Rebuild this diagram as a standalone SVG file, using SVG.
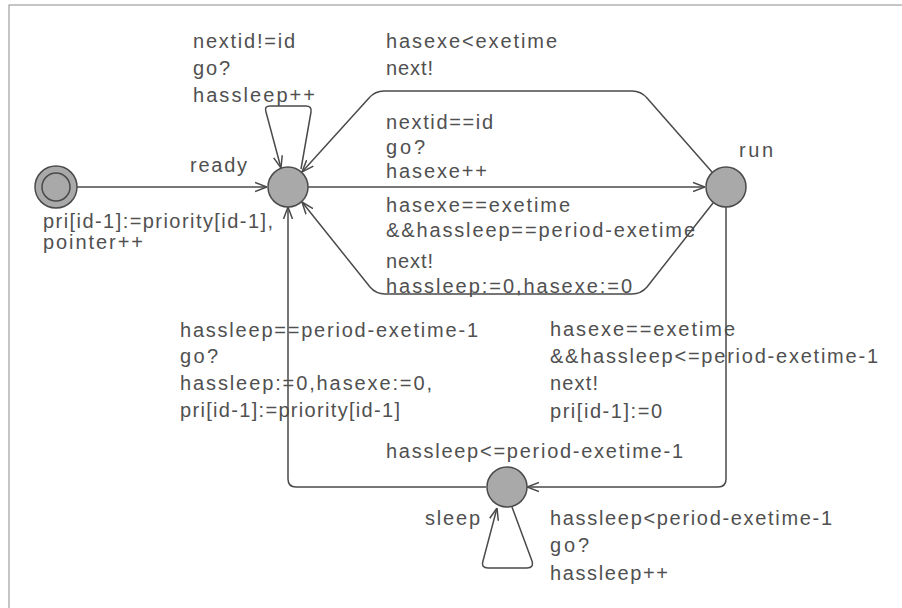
<svg xmlns="http://www.w3.org/2000/svg" width="902" height="608" viewBox="0 0 902 608">
  <style>
    .frame { fill: #ffffff; stroke: #a0a0a0; stroke-width: 1.2; }
    .loc { fill: #a9a9a9; stroke: #4a4a4a; stroke-width: 1.5; }
    .edge { fill: none; stroke: #4a4a4a; stroke-width: 1.5; marker-end: url(#arrow); }
    text { font-family: "Liberation Sans", Arial, sans-serif; font-size: 20px; fill: #505050; }
  </style>
  <defs>
    <marker id="arrow" viewBox="0 0 12 12" refX="12" refY="6" markerWidth="12" markerHeight="12" markerUnits="userSpaceOnUse" orient="auto">
      <path d="M0,1.5 L12,6 L0,10.5" fill="none" stroke="#4a4a4a" stroke-width="1.5"/>
    </marker>
  </defs>

  <!-- drawing area -->
  <rect class="frame" x="9" y="5" width="1000" height="1000"/>

  <!-- transitions -->
  <g id="connectors">
    <!-- initial -> ready -->
    <path class="edge" d="M77,187 L267,187"/>
    <!-- ready self loop -->
    <path class="edge" d="M301,169 L311,112 Q312,106 306,106 L270,106 Q264,106 266,112 L281,168"/>
    <!-- run -> ready (upper) -->
    <path class="edge" d="M712,172 L647,98 Q641,91 632,91 L384,91 Q375,91 369,98 L302,172"/>
    <!-- ready -> run -->
    <path class="edge" d="M308,187 L705,187"/>
    <!-- run -> ready (lower) -->
    <path class="edge" d="M713,203 L647,287 Q641,294 632,294 L385,294 Q376,294 370,287 L302,202"/>
    <!-- sleep -> ready -->
    <path class="edge" d="M486,487 L296,487 Q288,487 288,479 L288,207"/>
    <!-- run -> sleep -->
    <path class="edge" d="M726,207 L726,479 Q726,487 718,487 L527,487"/>
    <!-- sleep self loop -->
    <path class="edge" d="M512,507 L532,561 Q534,568 527,568 L488,568 Q481,568 483,561 L497,508"/>

    <!-- labels: ready self loop -->
    <text x="193" y="48" textLength="102">nextid!=id</text>
    <text x="193" y="75" textLength="37">go?</text>
    <text x="193" y="102" textLength="122">hassleep++</text>
    <!-- labels: initial -> ready -->
    <text x="43" y="228" textLength="230">pri[id-1]:=priority[id-1],</text>
    <text x="43" y="249" textLength="100">pointer++</text>
    <!-- labels: run -> ready (upper) -->
    <text x="386" y="48" textLength="171">hasexe&lt;exetime</text>
    <text x="386" y="75" textLength="47">next!</text>
    <!-- labels: ready -> run -->
    <text x="386" y="129" textLength="107">nextid==id</text>
    <text x="386" y="154" textLength="39">go?</text>
    <text x="386" y="178" textLength="101">hasexe++</text>
    <!-- labels: run -> ready (lower) -->
    <text x="386" y="212" textLength="184">hasexe==exetime</text>
    <text x="386" y="237" textLength="309">&amp;&amp;hassleep==period-exetime</text>
    <text x="386" y="268" textLength="47">next!</text>
    <text x="386" y="293" textLength="246">hassleep:=0,hasexe:=0</text>
    <!-- labels: sleep -> ready -->
    <text x="180" y="337" textLength="298">hassleep==period-exetime-1</text>
    <text x="180" y="363" textLength="38">go?</text>
    <text x="180" y="390" textLength="252">hassleep:=0,hasexe:=0,</text>
    <text x="180" y="417" textLength="220">pri[id-1]:=priority[id-1]</text>
    <!-- labels: run -> sleep -->
    <text x="550" y="336" textLength="185">hasexe==exetime</text>
    <text x="550" y="363" textLength="328">&amp;&amp;hassleep&lt;=period-exetime-1</text>
    <text x="550" y="390" textLength="48">next!</text>
    <text x="550" y="418" textLength="112">pri[id-1]:=0</text>
    <!-- labels: sleep self loop -->
    <text x="550" y="525" textLength="282">hassleep&lt;period-exetime-1</text>
    <text x="550" y="552" textLength="39">go?</text>
    <text x="550" y="580" textLength="118">hassleep++</text>
  </g>

  <!-- locations -->
  <g id="init">
    <circle class="loc" cx="56" cy="187" r="21"/>
    <circle class="loc" cx="56" cy="187" r="14"/>
  </g>
  <g id="ready">
    <circle class="loc" cx="288" cy="187" r="20"/>
    <text x="190" y="172" textLength="57">ready</text>
  </g>
  <g id="run">
    <circle class="loc" cx="726" cy="187" r="20"/>
    <text x="739" y="157" textLength="34">run</text>
  </g>
  <g id="sleep">
    <circle class="loc" cx="507" cy="487" r="20"/>
    <text x="425" y="525" textLength="55">sleep</text>
    <text x="386" y="458" textLength="297">hassleep&lt;=period-exetime-1</text>
  </g>
</svg>
